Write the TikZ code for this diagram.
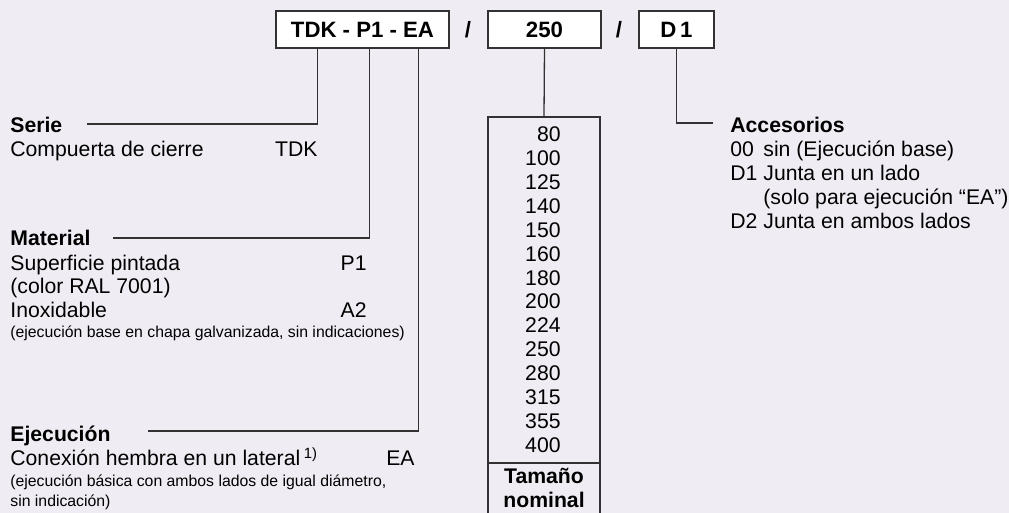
\documentclass[tikz,border=0pt]{standalone}
\usepackage{fontspec}
\setmainfont{Liberation Sans}
\usetikzlibrary{positioning}

\definecolor{paper}{RGB}{239,237,243}
\definecolor{rule}{RGB}{50,50,50}

\tikzset{
  codebox/.style={draw=rule, line width=0.6pt, fill=white, minimum height=18.5pt,
    inner sep=0pt, font=\fontsize{11.1}{12}\selectfont\bfseries},
  lead/.style={draw=rule, line width=0.65pt},
  txt/.style={inner sep=0pt, anchor=base west, font=\fontsize{10.6}{12}\selectfont},
  head/.style={txt, font=\fontsize{10.6}{12}\selectfont\bfseries},
  note/.style={txt, font=\fontsize{7.9}{9}\selectfont},
  code/.style={txt, anchor=base east},
}

\begin{document}
\begin{tikzpicture}[x=0.5pt,y=-0.5pt]
\fill[paper] (0,0) rectangle (1009,513);
\useasboundingbox (0,0) rectangle (1009,513);

% type code
\node[codebox, minimum width=86.5pt] (tdk) at (362.5,29.5) {TDK - P1 - EA};
\node[inner sep=0pt, font=\fontsize{11.1}{12}\selectfont\bfseries] (sl1) at (468,29.5) {/};
\node[codebox, minimum width=56.5pt] (dn) at (544.5,29.5) {250};
\node[inner sep=0pt, font=\fontsize{11.1}{12}\selectfont\bfseries] (sl2) at (619,29.5) {/};
\node[codebox, minimum width=37.5pt] (acc) at (676.5,29.5) {D\,1};

% Serie
\node[head] (serie) at (10,133) {Serie};
\node[txt] (serie1) at (10,157) {Compuerta de cierre};
\node[code] (serieC) at (318,157) {TDK};
\coordinate (serieL) at (87,124);
\draw[lead] ([xshift=21pt]tdk.south west) |- (serieL);

% Material
\node[head] (mat) at (10,246) {Material};
\node[txt] (mat1) at (10,271) {Superficie pintada};
\node[code] (matC1) at (367,271) {P1};
\node[txt] (mat2) at (10,294) {(color RAL 7001)};
\node[txt] (mat3) at (10,318) {Inoxidable};
\node[code] (matC2) at (367,318) {A2};
\node[note] (matN) at (10,338) {(ejecución base en chapa galvanizada, sin indicaciones)};
\coordinate (matL) at (113,238);
\draw[lead] ([xshift=47pt]tdk.south west) |- (matL);

% Ejecucion
\node[head] (eje) at (10,442) {Ejecución};
\node[txt] (eje1) at (10,466) {Conexión hembra en un lateral\,\textsuperscript{1)}};
\node[code] (ejeC) at (415,466) {EA};
\node[note] (ejeN1) at (10,487) {(ejecución básica con ambos lados de igual diámetro,};
\node[note] (ejeN2) at (10,507) {sin indicación)};
\coordinate (ejeL) at (148,431);
\draw[lead] ([xshift=71.5pt]tdk.south west) |- (ejeL);

% Tamano nominal
\coordinate (tabTop) at (544,117);
\draw[lead] (488,513) -- (488,117) -- (600,117) -- (600,513);
\draw[draw=rule, line width=1.1pt] (488,463) -- (600,463);
\draw[lead] (dn.south) -- (tabTop);
\foreach \v [count=\i] in {80,100,125,140,150,160,180,200,224,250,280,315,355,400}
  \node[code] (dn\i) at (561,{142+23.85*(\i-1)}) {\v};
\node[head, anchor=base] (tam1) at (544,484) {Tamaño};
\node[head, anchor=base] (tam2) at (544,508) {nominal};

% Accesorios
\node[head] (accH) at (730,133) {Accesorios};
\node[txt] (acc0) at (730,157) {00};
\node[txt] (acc0t) at (763,157) {sin (Ejecución base)};
\node[txt] (acc1) at (730,181) {D1};
\node[txt] (acc1t) at (763,181) {Junta en un lado};
\node[txt] (acc1n) at (763,205) {(solo para ejecución “EA”)};
\node[txt] (acc2) at (730,229) {D2};
\node[txt] (acc2t) at (763,229) {Junta en ambos lados};
\coordinate (accL) at (713,123);
\draw[lead] (acc.south) |- (accL);
\end{tikzpicture}
\end{document}
